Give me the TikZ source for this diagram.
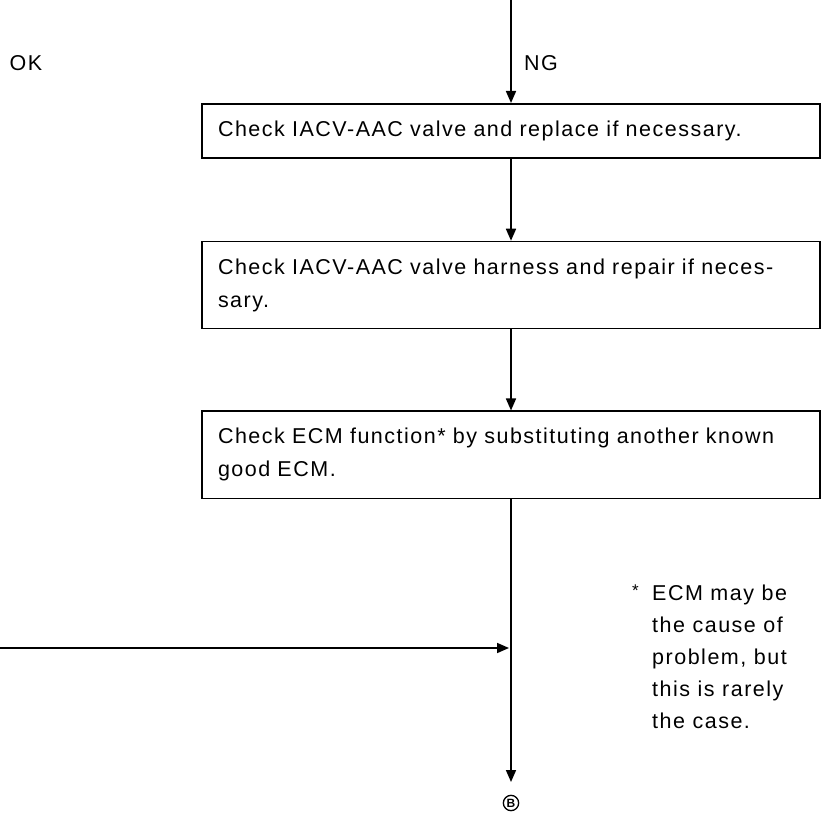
\documentclass[tikz,border=0pt]{standalone}
\usepackage{fontspec}
\setmainfont{Liberation Sans}[LetterSpace=7]
\usetikzlibrary{positioning,arrows.meta}

\begin{document}
\begin{tikzpicture}[x=1pt, y=-1pt,
	box/.style={draw, line width=1.7pt, text width=586pt, inner xsep=16pt, inner ysep=17pt, align=left, font=\fontsize{21.5}{33}\selectfont},
	flow/.style={line width=1.7pt, -{Triangle[length=12pt, width=10pt]}},
	tag/.style={font=\fontsize{21.5}{32}\selectfont}]

	\useasboundingbox (0,0) rectangle (825,813);

	\node[box, anchor=north] (iacv) at (511,103) {Check IACV-AAC valve and replace if necessary.};
	\node[box, below=82pt of iacv] (harness) {Check IACV-AAC valve harness and repair if neces-\\sary.};
	\node[box, below=81pt of harness] (ecm) {Check ECM function* by substituting another known\\good ECM.};

	\node[tag] (ok) at (26,63) {OK};
	\node[tag] (ng) at (541,63) {NG};

	\coordinate (feed) at (511,0);
	\coordinate (entry) at (0,648);
	\coordinate (tipb) at (511,782);

	\draw[flow] (feed) -- (iacv);
	\draw[flow] (iacv) -- (harness);
	\draw[flow] (harness) -- (ecm);
	\draw[flow] (ecm) -- (tipb);
	\draw[flow, shorten >=2pt] (entry) -- (entry -| ecm.south);

	\node[circle, draw, line width=1.3pt, inner sep=1.2pt, font=\fontsize{12}{12}\selectfont\bfseries] (exitb) at (511,803) {B};

	%%% footnote %%%
	\node[tag, align=left, anchor=north west, inner sep=0pt] (note) at (652,585) {ECM may be\\the cause of\\problem, but\\this is rarely\\the case.};
	\node[tag, anchor=north east, inner sep=0pt, font=\fontsize{17}{17}\selectfont] (star) at ([xshift=-13pt]note.north west) {*};

\end{tikzpicture}
\end{document}
